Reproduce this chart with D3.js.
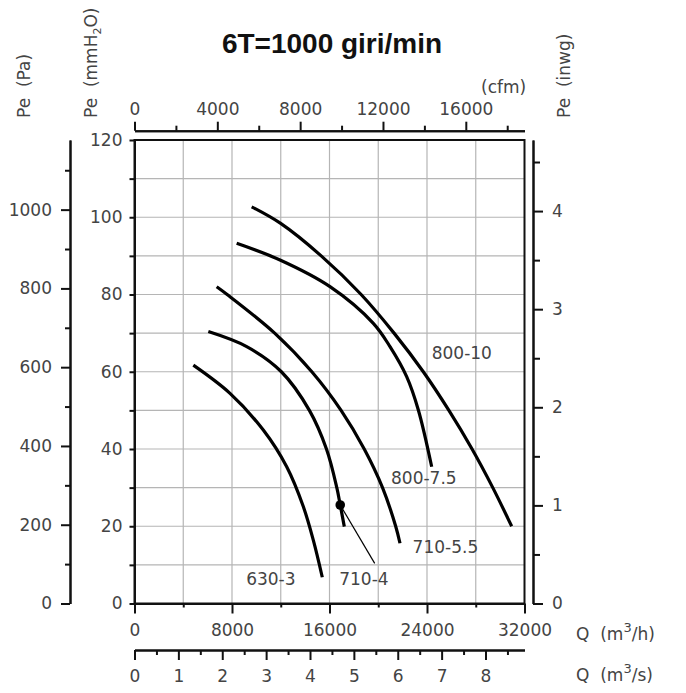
<!DOCTYPE html>
<html>
<head>
<meta charset="utf-8">
<script src="https://cdn.jsdelivr.net/npm/d3@7"></script>
<style>
  html, body { margin: 0; padding: 0; background: #fff; }
  svg text { font-family: "DejaVu Sans", sans-serif; fill: #444; white-space: pre; }
  .axis path, .axis line { stroke: #111; stroke-width: 2; }
  .axis text { font-size: 17px; fill: #444; }
</style>
</head>
<body>
<svg id="chart" width="686" height="693"></svg>
<script>
// ---------- data (Q in m3/h, Pe in mmH2O) ----------
const title = "6T=1000 giri/min";

const curve800_10 = [[9613,102.7],[11993,98.4],[15319,90],[18596,80],[21296,70],[23696,60],[25796,50],[27696,40],[29396,30],[30946,20]];
const curve800_75 = [[8383,93.25],[11938,88.93],[16041,82.03],[19596,72.54],[20964,66.5],[22331,58.73],[23289,50.1],[24385,35.4]];
const curve710_55 = [[6742,82.0],[7600,80],[11500,70],[14550,60],[16950,50],[18850,40],[20350,30],[21430,20],[21784,15.6]];
const curve710_4  = [[6058,70.4],[9206,66.5],[12050,60],[14350,50],[15750,40],[16600,30],[16880,25.5],[17215,19.9]];
const curve630_3  = [[4827,61.7],[7836,54.4],[10568,44.9],[12488,35.4],[13850,25.1],[14671,16.4],[15409,6.8]];

const curveNames = ["800-10","800-7.5","710-5.5","710-4","630-3"];
const curveData  = [curve800_10, curve800_75, curve710_55, curve710_4, curve630_3];
// label anchor (start) in data units
const labelQ = [24386, 21048, 22820, 16799, 9164];
const labelP = [63.2, 30.9, 13.1, 4.9, 4.9];

// operating point and its leader line end
const pointQ = 16880, pointP = 25.5;
const leaderQ = 19708, leaderP = 10.4;

// axis ticks
const qTicksMajor = [0, 8000, 16000, 24000, 32000];
const qTicksMinor = [4000, 12000, 20000, 28000];
const qGrid = [4000, 8000, 12000, 16000, 20000, 24000, 28000];
const pTicks = [0,10,20,30,40,50,60,70,80,90,100,110,120];
const pGrid = [10,20,30,40,50,60,70,80,90,100,110];
const paMajor = [0,200,400,600,800,1000];
const paMinor = [100,300,500,700,900,1100];
const inMajor = [0,1,2,3,4];
const inMinor = [0.5,1.5,2.5,3.5,4.5];
const cfmMajor = [0,4000,8000,12000,16000];
const cfmMinor = [2000,6000,10000,14000,18000];
const sMajor = [0,1,2,3,4,5,6,7,8];
const sMinor = [0.5,1.5,2.5,3.5,4.5,5.5,6.5,7.5,8.5];

// ---------- scales ----------
const svg = d3.select("#chart");
const X0 = 134.5, X1 = 524.5, Y0 = 603.5, Y1 = 140;
const x = d3.scaleLinear().domain([0, 32000]).range([X0, X1]);
const y = d3.scaleLinear().domain([0, 120]).range([Y0, Y1]);
const yPa = d3.scaleLinear().domain([0, 120 * 9.80665]).range([Y0, Y1]);
const yIn = d3.scaleLinear().domain([0, 120 / 25.4]).range([Y0, Y1]);
const xCfm = d3.scaleLinear().domain([0, 32000 / 1.69901]).range([X0, X1]);
const xS = d3.scaleLinear().domain([0, 32000 / 3600]).range([X0, X1]);
const fmt = d => String(d);

// ---------- grid ----------
const grid = svg.append("g").attr("stroke", "#b5b5b5").attr("stroke-width", 1.2);
grid.selectAll(".v").data(qGrid).join("line")
  .attr("x1", d => x(d)).attr("x2", d => x(d)).attr("y1", Y1).attr("y2", Y0);
grid.selectAll(".h").data(pGrid).join("line")
  .attr("x1", X0).attr("x2", X1).attr("y1", d => y(d)).attr("y2", d => y(d));

// frame
svg.append("rect").attr("x", X0).attr("y", Y1).attr("width", X1 - X0).attr("height", Y0 - Y1)
  .attr("fill", "none").attr("stroke", "#111").attr("stroke-width", 2);

function addAxis(axis, tx, ty) {
  const g = svg.append("g").attr("class", "axis").attr("transform", `translate(${tx},${ty})`).call(axis);
  g.select(".domain").attr("fill", "none");
  return g;
}

// left mmH2O axis
addAxis(d3.axisLeft(y).tickValues(pTicks).tickSize(5).tickSizeOuter(0).tickPadding(7)
  .tickFormat(d => d % 20 === 0 ? String(d) : ""), X0, 0);

// bottom m3/h axis
addAxis(d3.axisBottom(x).tickValues(qTicksMajor).tickSize(10).tickSizeOuter(0).tickPadding(10).tickFormat(fmt), 0, Y0);
addAxis(d3.axisBottom(x).tickValues(qTicksMinor).tickSize(4).tickSizeOuter(0).tickFormat(""), 0, Y0);

// Pa axis
addAxis(d3.axisLeft(yPa).tickValues(paMajor).tickSize(9).tickSizeOuter(0).tickPadding(9).tickFormat(fmt), 70, 0);
addAxis(d3.axisLeft(yPa).tickValues(paMinor).tickSize(5).tickSizeOuter(0).tickFormat(""), 70, 0);

// inwg axis
addAxis(d3.axisRight(yIn).tickValues(inMajor).tickSize(10).tickSizeOuter(0).tickPadding(9).tickFormat(fmt), 533, 0);
addAxis(d3.axisRight(yIn).tickValues(inMinor).tickSize(7).tickSizeOuter(0).tickFormat(""), 533, 0);

// cfm axis
addAxis(d3.axisTop(xCfm).tickValues(cfmMajor).tickSize(9).tickSizeOuter(0).tickPadding(7).tickFormat(fmt), 0, 130.7);
addAxis(d3.axisTop(xCfm).tickValues(cfmMinor).tickSize(5).tickSizeOuter(0).tickFormat(""), 0, 130.7);

// m3/s axis
addAxis(d3.axisBottom(xS).tickValues(sMajor).tickSize(10).tickSizeOuter(0).tickPadding(9.5).tickFormat(fmt), 0, 650);
addAxis(d3.axisBottom(xS).tickValues(sMinor).tickSize(5).tickSizeOuter(0).tickFormat(""), 0, 650);

// ---------- curves ----------
const line = d3.line().x(d => x(d[0])).y(d => y(d[1])).curve(d3.curveCatmullRom.alpha(0.5));
svg.append("g").selectAll("path").data(curveData).join("path")
  .attr("d", line).attr("fill", "none").attr("stroke", "#000").attr("stroke-width", 3.2)
  .attr("stroke-linecap", "butt").attr("stroke-linejoin", "round");

svg.append("line").attr("x1", x(pointQ)).attr("y1", y(pointP)).attr("x2", x(leaderQ)).attr("y2", y(leaderP))
  .attr("stroke", "#000").attr("stroke-width", 1.2);
svg.append("circle").attr("cx", x(pointQ)).attr("cy", y(pointP)).attr("r", 4.8).attr("fill", "#000");

svg.append("g").selectAll("text").data(curveNames).join("text")
  .attr("x", (d, i) => x(labelQ[i])).attr("y", (d, i) => y(labelP[i]))
  .attr("font-size", 17).text(d => d);

// ---------- titles / unit labels ----------
svg.append("text").attr("x", 332).attr("y", 53).attr("text-anchor", "middle")
  .style("font-family", "'Liberation Sans', Arial, sans-serif").style("font-weight", "bold")
  .style("fill", "#111").attr("font-size", 28).text(title);

function vlabel(xb, yb, parts) {
  const t = svg.append("text").attr("transform", `translate(${xb},${yb}) rotate(-90)`).attr("font-size", 17);
  parts.forEach(p => {
    const s = t.append("tspan").text(p.t);
    if (p.sub) s.attr("font-size", 11).attr("dy", 4);
    if (p.back) s.attr("dy", -4);
  });
}
vlabel(30, 118, [{t: "Pe  (Pa)"}]);
vlabel(96.5, 118, [{t: "Pe  (mmH"}, {t: "2", sub: true}, {t: "O)", back: true}]);
vlabel(570, 118, [{t: "Pe  (inwg)"}]);

svg.append("text").attr("x", 481).attr("y", 93).attr("font-size", 17).text("(cfm)");

function qlabel(yb, unit) {
  const t = svg.append("text").attr("x", 576).attr("y", yb).attr("font-size", 17);
  t.append("tspan").text("Q  (m");
  t.append("tspan").attr("font-size", 13).attr("dy", -8).text("3");
  t.append("tspan").attr("dy", 8).text("/" + unit + ")");
}
qlabel(640, "h");
qlabel(681, "s");
</script>
</body>
</html>
